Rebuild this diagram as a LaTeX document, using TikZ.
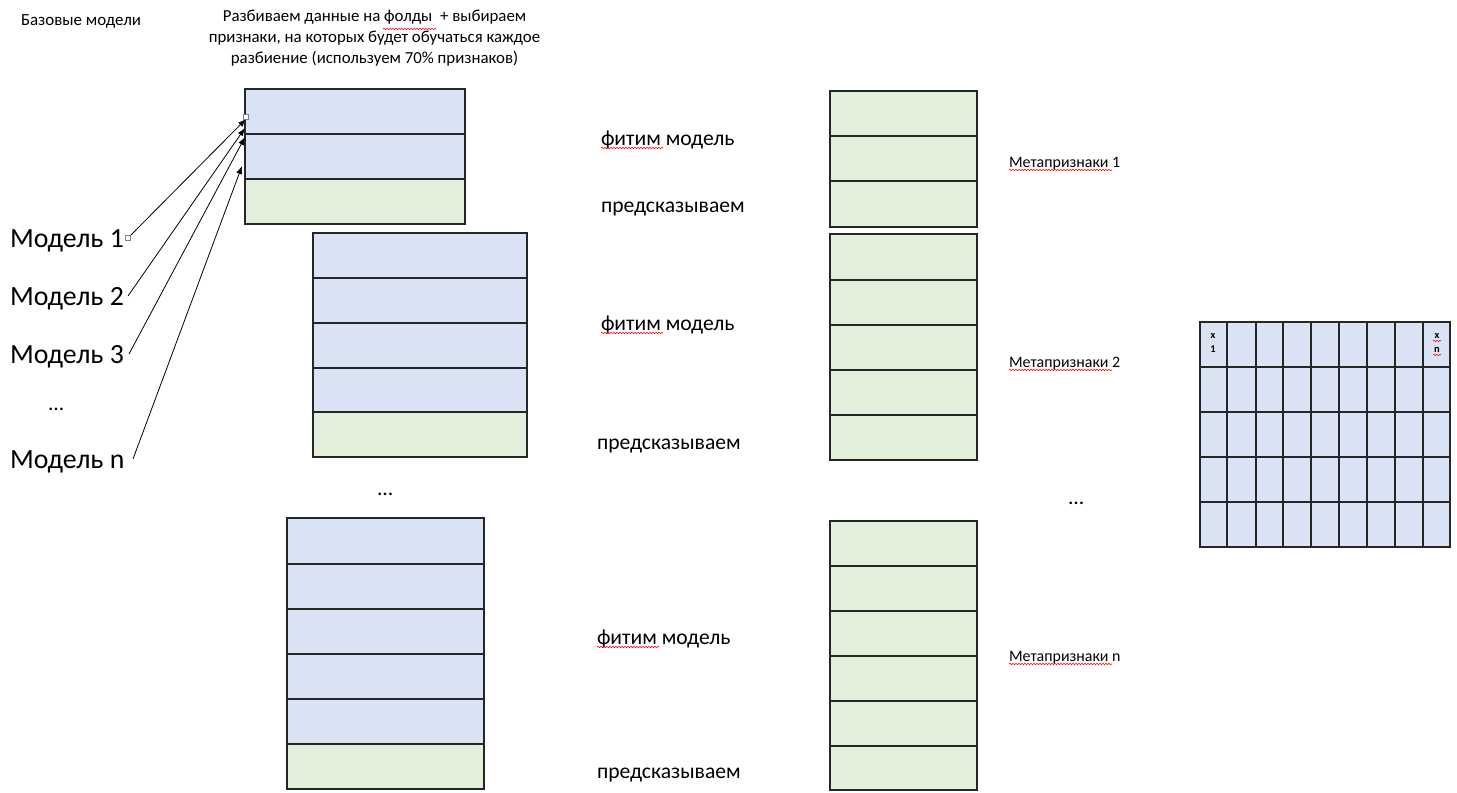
\documentclass[tikz,border=0pt]{standalone}
\usepackage{fontspec}
\setmainfont{Carlito}
\usetikzlibrary{arrows.meta,decorations.pathmorphing}
\definecolor{cellblue}{HTML}{DAE3F3}
\definecolor{cellgreen}{HTML}{E2EFDA}
\definecolor{celledge}{HTML}{262626}
\tikzset{
  cell/.style={draw=celledge, line width=1.8bp, inner sep=0pt, outer sep=0pt, anchor=north west},
  bcell/.style={cell, fill=cellblue},
  gcell/.style={cell, fill=cellgreen},
  txt/.style={inner sep=0pt, outer sep=0pt, anchor=base west},
  bigtxt/.style={txt, font=\fontsize{27.9}{32}\selectfont},
  midtxt/.style={txt, font=\fontsize{21.7}{25}\selectfont},
  headtxt/.style={txt, font=\fontsize{17}{21}\selectfont},
  smalltxt/.style={txt, font=\fontsize{16}{19}\selectfont},
  spell/.style={draw=red, line width=0.6bp, decorate, decoration={snake, amplitude=0.7bp, segment length=3bp}},
  link/.style={draw=black, line width=0.8bp, -{Latex[length=8bp,width=6bp]}},
  handle/.style={draw=gray, fill=white, line width=0.5bp, minimum size=5bp, inner sep=0pt, outer sep=0pt}
}
\begin{document}
\begin{tikzpicture}[x=1bp,y=-1bp]
\useasboundingbox (0,0) rectangle (1457,792);
\fill[white] (0,0) rectangle (1457,792);

% headings
\node[headtxt] (hbase) at (21,25.5) {Базовые модели};
\node[font=\fontsize{16.9}{21}\selectfont, align=center, inner sep=0pt, anchor=north] (htitle) at (374.5,10)
  {Разбиваем данные на фолды\ \ + выбираем\\признаки, на которых будет обучаться каждое\\разбиение (используем 70\% признаков)};
\coordinate (sp0a) at (383,29);
\coordinate (sp0b) at (436,29);
\draw[spell] (sp0a) -- (sp0b);

% block A
\foreach \i/\s/\y in {1/bcell/89,2/bcell/134,3/gcell/179}
  \node[\s, minimum width=220bp, minimum height=45bp] (A\i) at (245,\y) {};
% block B
\foreach \i/\s/\y/\h in {1/bcell/233/45,2/bcell/278/45,3/bcell/323/45,4/bcell/368/44,5/gcell/412/45}
  \node[\s, minimum width=214bp, minimum height=\h bp] (B\i) at (313,\y) {};
% block C
\foreach \i/\s/\y/\h in {1/bcell/518/46,2/bcell/564/45,3/bcell/609/45,4/bcell/654/45,5/bcell/699/45,6/gcell/744/45}
  \node[\s, minimum width=197bp, minimum height=\h bp] (C\i) at (287,\y) {};

% green columns
\foreach \i/\y/\h in {1/91/45,2/136/45,3/181/46}
  \node[gcell, minimum width=147bp, minimum height=\h bp] (G\i) at (830,\y) {};
\foreach \i/\y/\h in {1/234/46,2/280/45,3/325/45,4/370/45,5/415/45}
  \node[gcell, minimum width=147bp, minimum height=\h bp] (H\i) at (830,\y) {};
\foreach \i/\y/\h in {1/521/45,2/566/45,3/611/45,4/656/45,5/701/45,6/746/44}
  \node[gcell, minimum width=147bp, minimum height=\h bp] (K\i) at (830,\y) {};

% grid
\foreach \r/\y in {1/322,2/367,3/412,4/457,5/502}
  \foreach \c/\x/\w in {1/1200/27,2/1227/29,3/1256/27,4/1283/28,5/1311/28,6/1339/28,7/1367/28,8/1395/28,9/1423/27}
    \node[bcell, minimum width=\w bp, minimum height=45bp] (q\r\c) at (\x,\y) {};
\node[font=\fontsize{10.5}{14}\selectfont\bfseries, align=center, inner sep=0pt] (xone) at (1213,343) {x\\1};
\node[font=\fontsize{10.5}{14}\selectfont\bfseries, align=center, inner sep=0pt] (xenn) at (1437,343) {x\\n};
\coordinate (spx1a) at (1433,341); \coordinate (spx1b) at (1441,341);
\coordinate (spx2a) at (1433,355); \coordinate (spx2b) at (1441,355);
\draw[spell] (spx1a) -- (spx1b);
\draw[spell] (spx2a) -- (spx2b);

% models
\node[bigtxt] (m1) at (10,247) {Модель 1};
\node[bigtxt] (m2) at (10,305) {Модель 2};
\node[bigtxt] (m3) at (10,363) {Модель 3};
\node[txt, font=\fontsize{21.7}{25}\selectfont] (mdots) at (48,410) {...};
\node[bigtxt] (mn) at (10,468) {Модель n};

\coordinate (s1) at (128,238);
\coordinate (s2) at (128,296);
\coordinate (s3) at (129,354);
\coordinate (sn) at (133,459);
\coordinate (t1) at (246,119);
\coordinate (t2) at (245,128);
\coordinate (t3) at (245,137);
\coordinate (tn) at (242,166);
\draw[link] (s1) -- (t1);
\draw[link] (s2) -- (t2);
\draw[link] (s3) -- (t3);
\draw[link] (sn) -- (tn);
\node[handle] (h1) at (128,238) {};
\node[handle] (h2) at (246,117) {};

% dots
\node[midtxt] (bdots) at (377,495) {...};
\node[midtxt] (rdots) at (1068,504) {...};

% fit / predict labels
\node[midtxt] (f1) at (601,145) {фитим модель};
\node[midtxt] (p1) at (601,212) {предсказываем};
\node[midtxt] (f2) at (601,330) {фитим модель};
\node[midtxt] (p2) at (597,449) {предсказываем};
\node[midtxt] (f3) at (597,644) {фитим модель};
\node[midtxt] (p3) at (597,778) {предсказываем};
\coordinate (sf1a) at (601,148); \coordinate (sf1b) at (663,148);
\coordinate (sf2a) at (601,333); \coordinate (sf2b) at (663,333);
\coordinate (sf3a) at (597,647); \coordinate (sf3b) at (659,647);
\draw[spell] (sf1a) -- (sf1b);
\draw[spell] (sf2a) -- (sf2b);
\draw[spell] (sf3a) -- (sf3b);

% meta labels
\node[smalltxt] (mt1) at (1009,167) {Метапризнаки 1};
\node[smalltxt] (mt2) at (1009,367) {Метапризнаки 2};
\node[smalltxt] (mtn) at (1009,661) {Метапризнаки n};
\coordinate (sm1a) at (1009,170); \coordinate (sm1b) at (1112,170);
\coordinate (sm2a) at (1009,370); \coordinate (sm2b) at (1112,370);
\coordinate (sm3a) at (1009,664); \coordinate (sm3b) at (1112,664);
\draw[spell] (sm1a) -- (sm1b);
\draw[spell] (sm2a) -- (sm2b);
\draw[spell] (sm3a) -- (sm3b);
\end{tikzpicture}
\end{document}
